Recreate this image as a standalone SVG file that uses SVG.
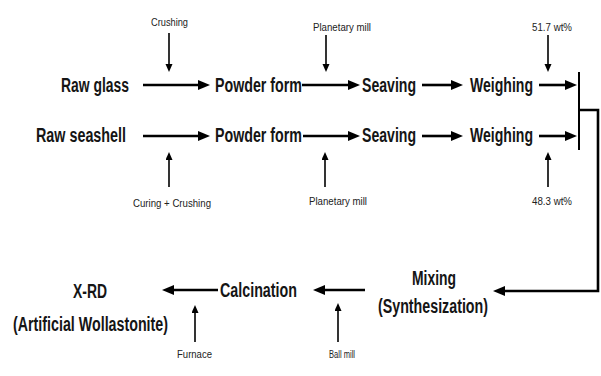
<svg xmlns="http://www.w3.org/2000/svg" width="601" height="376" viewBox="0 0 601 376">
<style>
.m{font-family:"Liberation Sans",Arial,sans-serif;font-size:20px;font-weight:bold;fill:#151515}
.s{font-family:"Liberation Sans",Arial,sans-serif;font-size:11px;fill:#222}
.a{stroke:#000;stroke-width:2.6;fill:none}
.b{stroke:#000;stroke-width:1.6;fill:none}
</style>
<defs>
<marker id="big" markerUnits="userSpaceOnUse" markerWidth="14" markerHeight="12" refX="2" refY="5" orient="auto">
<path d="M0,0 L12,5 L0,10 z" fill="#000"/>
</marker>
<marker id="sm" markerUnits="userSpaceOnUse" markerWidth="10" markerHeight="8" refX="1" refY="3.5" orient="auto">
<path d="M0,0 L8,3.5 L0,7 z" fill="#000"/>
</marker>
</defs>
<rect width="601" height="376" fill="#fff"/>

<g id="raw-glass"><text class="m" x="61" y="92" textLength="68" lengthAdjust="spacingAndGlyphs">Raw glass</text></g>
<g id="powder-1"><text class="m" x="215" y="92" textLength="87" lengthAdjust="spacingAndGlyphs">Powder form</text></g>
<g id="seaving-1"><text class="m" x="362" y="92" textLength="54" lengthAdjust="spacingAndGlyphs">Seaving</text></g>
<g id="weighing-1"><text class="m" x="470" y="92" textLength="63" lengthAdjust="spacingAndGlyphs">Weighing</text></g>

<g id="raw-seashell"><text class="m" x="36" y="142" textLength="90" lengthAdjust="spacingAndGlyphs">Raw seashell</text></g>
<g id="powder-2"><text class="m" x="215" y="142" textLength="87" lengthAdjust="spacingAndGlyphs">Powder form</text></g>
<g id="seaving-2"><text class="m" x="362" y="142" textLength="54" lengthAdjust="spacingAndGlyphs">Seaving</text></g>
<g id="weighing-2"><text class="m" x="470" y="142" textLength="63" lengthAdjust="spacingAndGlyphs">Weighing</text></g>

<g id="mixing"><text class="m" x="412" y="285" textLength="44" lengthAdjust="spacingAndGlyphs">Mixing</text><text class="m" x="378" y="313" textLength="110" lengthAdjust="spacingAndGlyphs">(Synthesization)</text></g>
<g id="calcination"><text class="m" x="220" y="297" textLength="77" lengthAdjust="spacingAndGlyphs">Calcination</text></g>
<g id="xrd"><text class="m" x="73" y="298" textLength="34" lengthAdjust="spacingAndGlyphs">X-RD</text><text class="m" x="13" y="331" textLength="155" lengthAdjust="spacingAndGlyphs">(Artificial Wollastonite)</text></g>

<g id="labels">
<text class="s" x="151" y="26" textLength="37" lengthAdjust="spacingAndGlyphs">Crushing</text>
<text class="s" x="313" y="31" textLength="58" lengthAdjust="spacingAndGlyphs">Planetary mill</text>
<text class="s" x="532" y="31" textLength="40" lengthAdjust="spacingAndGlyphs">51.7 wt%</text>
<text class="s" x="133" y="207" textLength="78" lengthAdjust="spacingAndGlyphs">Curing + Crushing</text>
<text class="s" x="309" y="205" textLength="58" lengthAdjust="spacingAndGlyphs">Planetary mill</text>
<text class="s" x="532" y="205" textLength="40" lengthAdjust="spacingAndGlyphs">48.3 wt%</text>
<text class="s" x="177" y="358" textLength="35" lengthAdjust="spacingAndGlyphs">Furnace</text>
<text class="s" x="329" y="358" textLength="26" lengthAdjust="spacingAndGlyphs">Ball mill</text>
</g>

<g id="connectors">
<line class="a" x1="143" y1="85" x2="200" y2="85" marker-end="url(#big)"/>
<line class="a" x1="302" y1="85" x2="350" y2="85" marker-end="url(#big)"/>
<line class="a" x1="422" y1="85" x2="453" y2="85" marker-end="url(#big)"/>
<line class="a" x1="539" y1="85" x2="567" y2="85" marker-end="url(#big)"/>
<line class="a" x1="143" y1="136" x2="200" y2="136" marker-end="url(#big)"/>
<line class="a" x1="303" y1="136" x2="350" y2="136" marker-end="url(#big)"/>
<line class="a" x1="422" y1="136" x2="453" y2="136" marker-end="url(#big)"/>
<line class="a" x1="539" y1="136" x2="567" y2="136" marker-end="url(#big)"/>
<line x1="579" y1="72" x2="579" y2="150" stroke="#000" stroke-width="2"/>
<polyline class="a" points="579,110 598,110 598,291 503,291" marker-end="url(#big)"/>
<line class="a" x1="365" y1="290" x2="323" y2="290" marker-end="url(#big)"/>
<line class="a" x1="218" y1="290" x2="172" y2="290" marker-end="url(#big)"/>
<line class="b" x1="169" y1="33" x2="169" y2="65" marker-end="url(#sm)"/>
<line class="b" x1="326" y1="35" x2="326" y2="65" marker-end="url(#sm)"/>
<line class="b" x1="548" y1="35" x2="548" y2="65" marker-end="url(#sm)"/>
<line class="b" x1="169" y1="187" x2="169" y2="159" marker-end="url(#sm)"/>
<line class="b" x1="325" y1="187" x2="325" y2="159" marker-end="url(#sm)"/>
<line class="b" x1="548" y1="187" x2="548" y2="159" marker-end="url(#sm)"/>
<line class="b" x1="195" y1="342" x2="195" y2="312" marker-end="url(#sm)"/>
<line class="b" x1="338" y1="342" x2="338" y2="310" marker-end="url(#sm)"/>
</g>
</svg>
